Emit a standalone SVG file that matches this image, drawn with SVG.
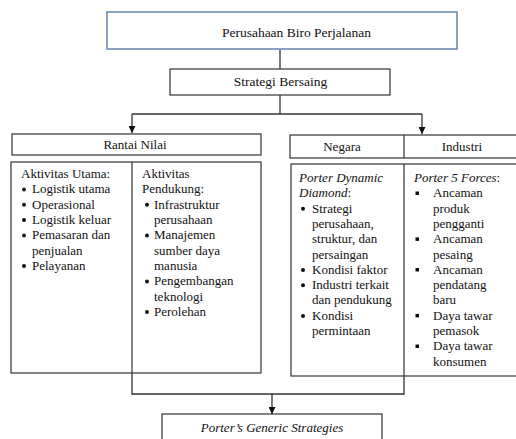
<svg xmlns="http://www.w3.org/2000/svg" width="516" height="439" viewBox="0 0 516 439">
<defs>
<style>
text{font-family:"Liberation Serif","Times New Roman",serif;font-size:13px;fill:#111}
.c{text-anchor:middle}
.i{font-style:italic}
.box{fill:#fff;stroke:#333;stroke-width:1.2}
.ln{fill:none;stroke:#333;stroke-width:1.3}
.dot{fill:#111}
</style>
<marker id="ah" viewBox="0 0 10 10" refX="10" refY="5" markerWidth="7" markerHeight="7" orient="auto" markerUnits="userSpaceOnUse">
<path d="M0,0 L10,5 L0,10 Z" fill="#111"/>
</marker>
</defs>
<rect width="516" height="439" fill="#fff"/>
<g id="connectors">
<path class="ln" d="M280,49 V69"/>
<path class="ln" d="M280,95 V114"/>
<path class="ln" d="M132,114 H422"/>
<path class="ln" d="M132,114 V133" marker-end="url(#ah)"/>
<path class="ln" d="M422,114 V134" marker-end="url(#ah)"/>
<path class="ln" d="M132,373 V394 H404 V376"/>
<path class="ln" d="M272,394 V414" marker-end="url(#ah)"/>
</g>
<g id="perusahaan">
<rect x="107" y="12" width="350" height="37" fill="#fff" stroke="#6f8bb5" stroke-width="1.6"/>
<text x="296.5" y="37" class="c" style="font-size:13.5px">Perusahaan Biro Perjalanan</text>
</g>
<g id="strategi">
<rect class="box" x="170" y="69" width="220" height="26"/>
<text x="280.5" y="86" class="c" style="font-size:13.5px">Strategi Bersaing</text>
</g>
<g id="rantai-nilai">
<rect class="box" x="12" y="134" width="249" height="21"/>
<text x="135" y="149" class="c">Rantai Nilai</text>
</g>
<g id="negara-industri">
<rect class="box" x="290" y="135" width="230" height="23"/>
<line x1="404" y1="135" x2="404" y2="158" stroke="#333" stroke-width="1.2"/>
<text x="342" y="151" class="c">Negara</text>
<text x="462" y="151" class="c">Industri</text>
</g>
<g id="aktivitas">
<rect class="box" x="11" y="162" width="250" height="211"/>
<line x1="132" y1="162" x2="132" y2="373" stroke="#333" stroke-width="1.2"/>
<text x="21" y="178">Aktivitas Utama:</text>
<circle class="dot" cx="24" cy="189.5" r="2"/><text x="32" y="193.3">Logistik utama</text>
<circle class="dot" cx="24" cy="204.8" r="2"/><text x="32" y="208.6">Operasional</text>
<circle class="dot" cx="24" cy="220.1" r="2"/><text x="32" y="223.9">Logistik keluar</text>
<circle class="dot" cx="24" cy="235.4" r="2"/><text x="32" y="239.2">Pemasaran dan</text>
<text x="32" y="254.5">penjualan</text>
<circle class="dot" cx="24" cy="266" r="2"/><text x="32" y="269.8">Pelayanan</text>
<text x="142" y="178">Aktivitas</text>
<text x="142" y="193.3">Pendukung:</text>
<circle class="dot" cx="147" cy="204.8" r="2"/><text x="154" y="208.6">Infrastruktur</text>
<text x="154" y="223.9">perusahaan</text>
<circle class="dot" cx="147" cy="235.4" r="2"/><text x="154" y="239.2">Manajemen</text>
<text x="154" y="254.5">sumber daya</text>
<text x="154" y="269.8">manusia</text>
<circle class="dot" cx="147" cy="281.4" r="2"/><text x="154" y="285.2">Pengembangan</text>
<text x="154" y="300.5">teknologi</text>
<circle class="dot" cx="147" cy="312" r="2"/><text x="154" y="315.8">Perolehan</text>
</g>
<g id="porter-diamond-forces">
<rect class="box" x="291" y="164" width="230" height="212"/>
<line x1="404" y1="164" x2="404" y2="376" stroke="#333" stroke-width="1.2"/>
<text x="299" y="182" class="i">Porter Dynamic</text>
<text x="299" y="197.3"><tspan class="i">Diamond</tspan>:</text>
<circle class="dot" cx="303" cy="208.8" r="2"/><text x="312" y="212.6">Strategi</text>
<text x="312" y="227.9">perusahaan,</text>
<text x="312" y="243.2">struktur, dan</text>
<text x="312" y="258.5">persaingan</text>
<circle class="dot" cx="303" cy="270" r="2"/><text x="312" y="273.8">Kondisi faktor</text>
<circle class="dot" cx="303" cy="285.3" r="2"/><text x="312" y="289.1">Industri terkait</text>
<text x="312" y="304.4">dan pendukung</text>
<circle class="dot" cx="303" cy="315.9" r="2"/><text x="312" y="319.7">Kondisi</text>
<text x="312" y="335">permintaan</text>
<text x="414" y="182"><tspan class="i">Porter 5 Forces</tspan>:</text>
<rect class="dot" x="415.5" y="191.5" width="3.5" height="3.5"/><text x="433" y="197.3">Ancaman</text>
<text x="433" y="212.6">produk</text>
<text x="433" y="227.9">pengganti</text>
<rect class="dot" x="415.5" y="237.4" width="3.5" height="3.5"/><text x="433" y="243.2">Ancaman</text>
<text x="433" y="258.5">pesaing</text>
<rect class="dot" x="415.5" y="268" width="3.5" height="3.5"/><text x="433" y="273.8">Ancaman</text>
<text x="433" y="289.1">pendatang</text>
<text x="433" y="304.4">baru</text>
<rect class="dot" x="415.5" y="313.9" width="3.5" height="3.5"/><text x="433" y="319.7">Daya tawar</text>
<text x="433" y="335">pemasok</text>
<rect class="dot" x="415.5" y="344.5" width="3.5" height="3.5"/><text x="433" y="350.3">Daya tawar</text>
<text x="433" y="365.6">konsumen</text>
</g>
<g id="generic">
<rect class="box" x="162" y="414" width="220" height="40"/>
<text x="272" y="432" class="c i">Porter’s Generic Strategies</text>
</g>
</svg>
